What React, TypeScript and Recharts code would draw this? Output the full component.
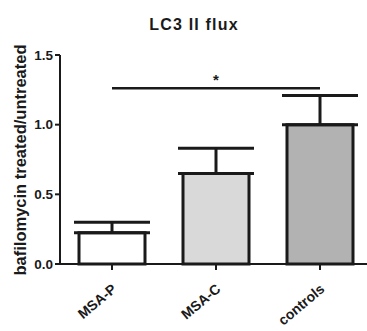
import React from 'react';
import { BarChart, Bar, XAxis, YAxis, ErrorBar, ReferenceLine, Cell } from 'recharts';

const categories = ['MSA-P', 'MSA-C', 'controls'];
const fluxValues = [0.225, 0.65, 1.0];
const fluxErrorsUpper = [0.075, 0.18, 0.21];
const barFills = ['#ffffff', '#d9d9d9', '#b2b2b2'];
const yTicks = [0, 0.5, 1.0, 1.5];
const sigFrom = 'MSA-P';
const sigTo = 'controls';
const sigY = 1.262;
const sigLabel = '*';

const data = categories.map((name, i) => ({
  name,
  value: fluxValues[i],
  err: [0, fluxErrorsUpper[i]],
}));

const FONT = '"Liberation Sans", Arial, sans-serif';
const INK = '#1a1a1a';

const renderXTick = (props: any) => {
  const { x, y, payload, index } = props;
  const ax = x + 5.5;
  const ay = y + 18.5;
  return (
    <text
      key={`xt-${index}`}
      x={ax}
      y={ay}
      transform={`rotate(-40, ${ax}, ${ay})`}
      textAnchor="end"
      fontFamily={FONT}
      fontWeight="bold"
      fontSize={14}
      fill={INK}
    >
      {payload.value}
    </text>
  );
};

const YLabel = () => (
  <text
    x={26}
    y={160}
    transform="rotate(-90, 26, 160)"
    textAnchor="middle"
    fontFamily={FONT}
    fontWeight="bold"
    fontSize={16.5}
    fill={INK}
  >
    bafilomycin treated/untreated
  </text>
);

export default function App() {
  return (
    <div
      style={{
        position: 'absolute',
        left: 0,
        top: 0,
        width: 367,
        height: 331,
        overflow: 'hidden',
        background: '#fff',
      }}
    >
      <div
        style={{
          position: 'absolute',
          left: 94,
          top: 17,
          width: 200,
          textAlign: 'center',
          fontFamily: FONT,
          fontWeight: 'bold',
          fontSize: 16,
          lineHeight: '16px',
          letterSpacing: 1.2,
          color: INK,
        }}
      >
        LC3 II flux
      </div>
      <BarChart
        width={380}
        height={331}
        data={data}
        margin={{ top: 55, right: 8, left: 0, bottom: 7 }}
      >
        <XAxis
          dataKey="name"
          height={60}
          axisLine={{ stroke: INK, strokeWidth: 2 }}
          tickLine={{ stroke: INK, strokeWidth: 2 }}
          tickSize={6}
          tick={renderXTick}
          interval={0}
        />
        <YAxis
          width={60}
          domain={[0, 1.5]}
          ticks={yTicks}
          interval={0}
          tickFormatter={(v: number) => v.toFixed(1)}
          axisLine={{ stroke: INK, strokeWidth: 2 }}
          tickLine={{ stroke: INK, strokeWidth: 2 }}
          tickSize={5}
          tick={{ fontFamily: FONT, fontWeight: 'bold', fontSize: 13.5, fill: INK }}
          label={{ content: () => <YLabel /> }}
        />
        <Bar
          dataKey="value"
          barSize={66}
          stroke={INK}
          strokeWidth={3}
          isAnimationActive={false}
        >
          {data.map((d, i) => (
            <Cell key={d.name} fill={barFills[i]} />
          ))}
          <ErrorBar
            dataKey="err"
            width={38}
            stroke={INK}
            strokeWidth={3}
            direction="y"
            isAnimationActive={false}
          />
        </Bar>
        <ReferenceLine
          segment={[
            { x: sigFrom, y: sigY },
            { x: sigTo, y: sigY },
          ]}
          stroke={INK}
          strokeWidth={2.5}
          label={{
            value: sigLabel,
            position: 'top',
            offset: 3,
            fontFamily: FONT,
            fontWeight: 'bold',
            fontSize: 15,
            fill: INK,
          }}
        />
      </BarChart>
    </div>
  );
}
